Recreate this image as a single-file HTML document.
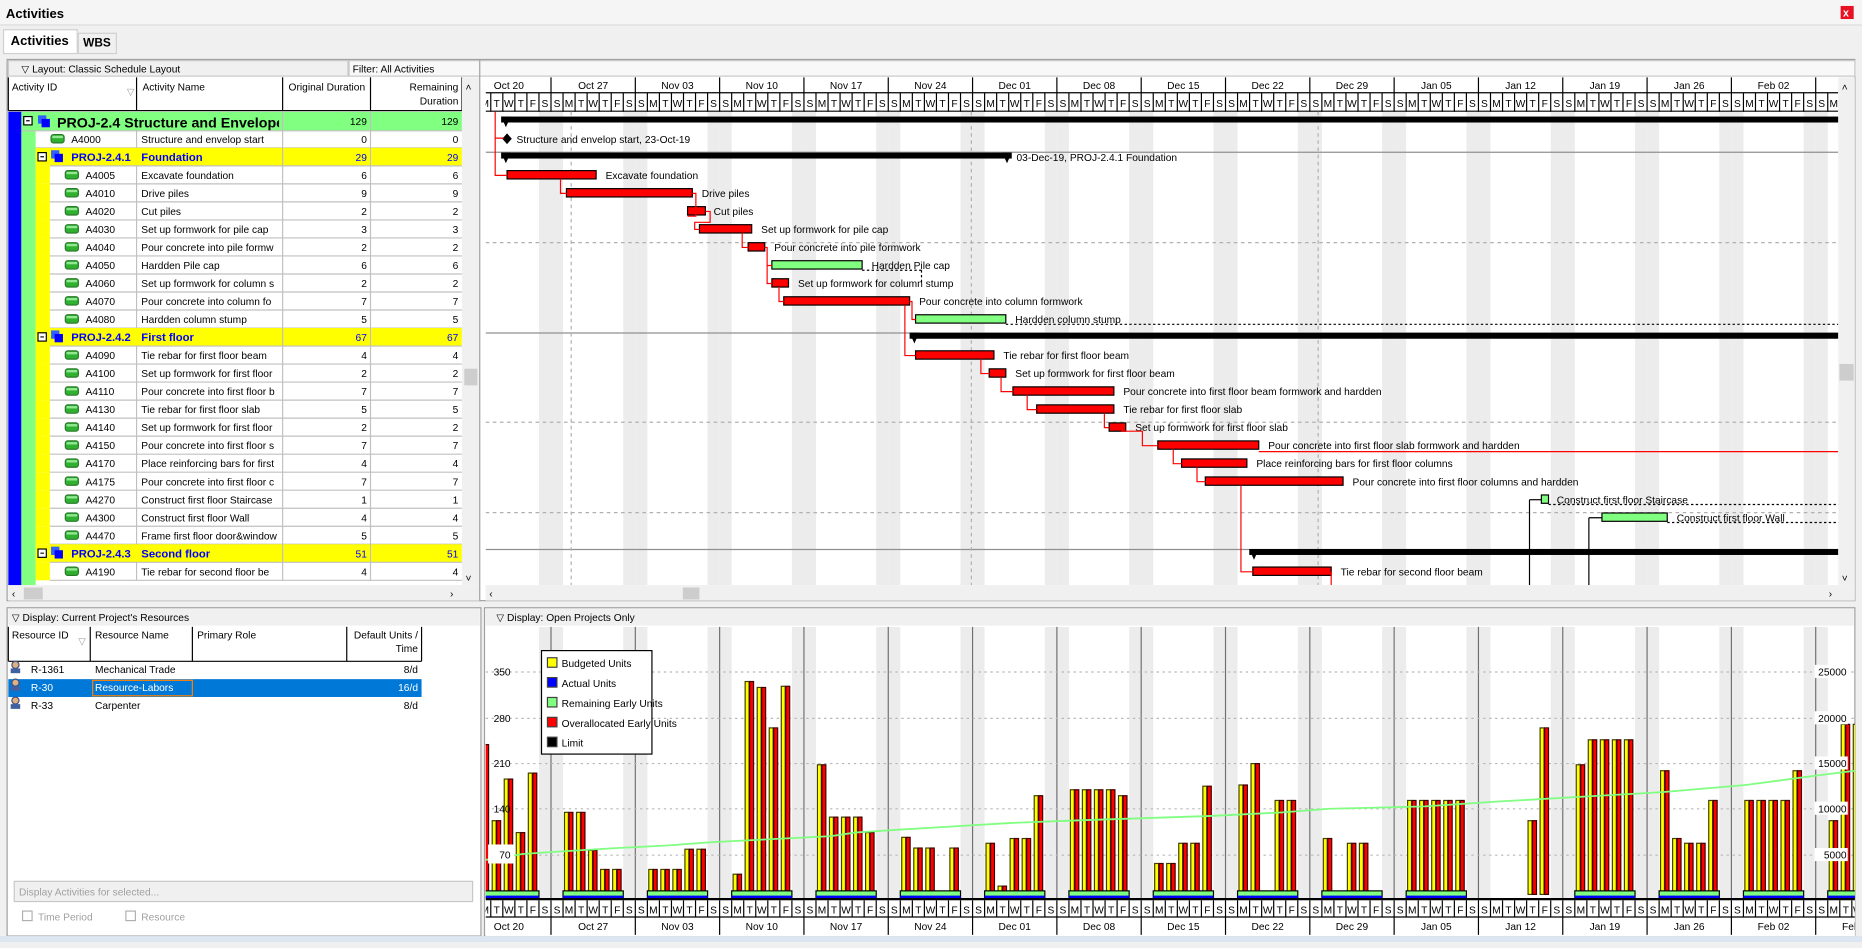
<!DOCTYPE html>
<html><head><meta charset="utf-8">
<style>
html,body{margin:0;padding:0;width:1862px;height:942px;overflow:hidden;background:#f0f0f0}
#w{position:absolute;left:0;top:0;width:1568px;height:792px;transform:scale(1.1875,1.18939);transform-origin:0 0}
svg text{font-family:"Liberation Sans",sans-serif;font-size:8.6px;fill:#000}
</style></head><body>
<div id="w"><svg id="s" width="1568" height="792" xmlns="http://www.w3.org/2000/svg"></svg></div>
<script>
var o=[];
function R(x,y,w,h,f,st,extra){o.push('<rect x="'+x+'" y="'+y+'" width="'+w+'" height="'+h+'" fill="'+f+'"'+(st?' stroke="'+st+'" stroke-width="1"':'')+(extra||'')+'/>');}
function L(x1,y1,x2,y2,c,d,sw){o.push('<line x1="'+x1+'" y1="'+y1+'" x2="'+x2+'" y2="'+y2+'" stroke="'+c+'" stroke-width="'+(sw||1)+'"'+(d?' stroke-dasharray="'+d+'"':'')+'/>');}
function T(x,y,t,a){o.push('<text x="'+x+'" y="'+y+'" '+(a||'')+'>'+t+'</text>');}
R(0,0,1568,792,'#f0f0f0');
R(0,0,1568,21,'#f5f5f5');L(0,21,1568,21,'#dcdcdc');
T(5,15,'Activities','style="font-size:11px;font-weight:bold"');
R(1550,5,11,11,'#e81123');T(1552,14,'x','style="fill:#fff;font-size:9px;font-weight:bold"');
R(3,25,62,20,'#fff','#d0d0d0');T(9,38,'Activities','style="font-size:11px;font-weight:bold"');
R(66,28,32,17,'#f0f0f0','#d0d0d0');T(70,39,'WBS','style="font-size:10px;font-weight:bold"');
R(6,50,1556,455,'#fff','#a0a0a0');
R(7,51,286,13,'#f0f0f0','#c8c8c8');T(18,61,'▽ Layout: Classic Schedule Layout');
R(294,51,1268,13,'#f8f8f8','#c8c8c8');T(297,61,'Filter: All Activities');
R(7,65,397,28,'#fff');
var cols=[7,115,238,312,389];
for(var i=0;i<cols.length;i++)L(cols[i],65,cols[i],93,'#000');
L(7,93,389,93,'#000');
T(10,76,'Activity ID');T(107,80,'▽','style="fill:#999;font-size:8px"');T(120,76,'Activity Name');T(243,76,'Original Duration');T(386,76,'Remaining','text-anchor="end"');T(386,88,'Duration','text-anchor="end"');
var rows=[
['g0','PROJ-2.4  Structure and Envelope','129'],
['a1','A4000','Structure and envelop start','0'],
['g1','PROJ-2.4.1','Foundation','29'],
['a2','A4005','Excavate foundation','6'],
['a2','A4010','Drive piles','9'],
['a2','A4020','Cut piles','2'],
['a2','A4030','Set up formwork for pile cap','3'],
['a2','A4040','Pour concrete into pile formw','2'],
['a2','A4050','Hardden Pile cap','6'],
['a2','A4060','Set up formwork for column s','2'],
['a2','A4070','Pour concrete into column fo','7'],
['a2','A4080','Hardden column stump','5'],
['g1','PROJ-2.4.2','First floor','67'],
['a2','A4090','Tie rebar for first floor beam','4'],
['a2','A4100','Set up formwork for first floor','2'],
['a2','A4110','Pour concrete into first floor b','7'],
['a2','A4130','Tie rebar for first floor slab','5'],
['a2','A4140','Set up formwork for first floor','2'],
['a2','A4150','Pour concrete into first floor s','7'],
['a2','A4170','Place reinforcing bars for first','4'],
['a2','A4175','Pour concrete into first floor c','7'],
['a2','A4270','Construct first floor Staircase','1'],
['a2','A4300','Construct first floor Wall','4'],
['a2','A4470','Frame first floor door&amp;window','5'],
['g1','PROJ-2.4.3','Second floor','51'],
['a2','A4190','Tie rebar for second floor be','4']];
var RH=15.15,RT=94;
function ry(i){return RT+i*RH;}
R(7,94,11,398,'#0000ff');R(18,110,12,382,'#80ff80');
o.push('<clipPath id="tc"><rect x="7" y="94" width="382" height="397"/></clipPath><clipPath id="c0"><rect x="44" y="94" width="191" height="16"/></clipPath><clipPath id="cn"><rect x="115" y="94" width="121" height="400"/></clipPath><g clip-path="url(#tc)">');
for(var i=0;i<rows.length;i++){
 var r=rows[i],y=ry(i),cy=y+11;
 if(r[0]=='g0'){R(18,y,371,16,'#80ff80');
  R(20,y+4,7,7,'#fff','#000');L(22,y+7.5,25,y+7.5,'#000');
  R(32,y+3,7,7,'#3060ff');R(35,y+6,7,7,'#0000ff');
  T(48,y+13,r[1],'clip-path="url(#c0)" style="font-size:12px;font-weight:bold"');
  T(309,cy,r[2],'text-anchor="end"');T(386,cy,r[2],'text-anchor="end"');
  L(238,y,238,y+16,'#c0c0c0');L(312,y,312,y+16,'#c0c0c0');L(18,y+16,389,y+16,'#c0c0c0');continue;}
 if(r[0]=='g1'){R(30,y,359,RH,'#ffff00');
  R(32,y+4,7,7,'#fff','#000');L(34,y+7.5,37,y+7.5,'#000');
  R(43,y+2,7,7,'#3060ff');R(46,y+5,7,7,'#0000ff');
  T(60,cy,r[1],'style="font-weight:bold;fill:#0000ff;font-size:9.5px"');T(119,cy,r[2],'style="font-weight:bold;fill:#0000ff;font-size:9.5px"');
  T(309,cy,r[3],'text-anchor="end" style="fill:#0000ff"');T(386,cy,r[3],'text-anchor="end" style="fill:#0000ff"');
 } else {
  var ix=r[0]=='a1'?43:55;
  if(r[0]=='a2')R(30,y,12,RH,'#ffff00');
  R(ix,y+4,11,7,'#30b030','#2a7a2a','rx="2"');R(ix+1,y+5,9,2,'#90e890');
  T(r[0]=='a1'?60:72,cy,r[1]);T(119,cy,r[2],'clip-path="url(#cn)"');
  T(309,cy,r[3],'text-anchor="end"');T(386,cy,r[3],'text-anchor="end"');
  L(115,y,115,y+RH,'#c0c0c0');
 }
 L(238,y,238,y+RH,'#c0c0c0');L(312,y,312,y+RH,'#c0c0c0');L(r[0]=='a1'?30:42,y+RH,389,y+RH,'#c0c0c0');
}
o.push('</g>');
R(389,65,15,427,'#f0f0f0');T(392,76,'˄');T(392,489,'˅');R(391,310,11,14,'#cdcdcd');
R(7,492,397,13,'#f0f0f0');T(10,502,'‹');T(379,502,'›');R(20,494,16,10,'#cdcdcd');
L(404,50,404,505,'#a0a0a0');
function dx(d){return 393+d*10.143;}
var wk=['Oct 20','Oct 27','Nov 03','Nov 10','Nov 17','Nov 24','Dec 01','Dec 08','Dec 15','Dec 22','Dec 29','Jan 05','Jan 12','Jan 19','Jan 26','Feb 02','Feb 09'];
var dn=['S','M','T','W','T','F','S'];
o.push('<clipPath id="gc"><rect x="409" y="65" width="1139" height="427"/></clipPath><g clip-path="url(#gc)">');
R(409,65,1139,427,'#fff');
for(var d=0;d<120;d++){var x=dx(d);if(d%7==6||d%7==0)R(x,94,10.143,398,'#ececec');}
R(409,65,1139,29,'#fff');
for(var k=0;k<17;k++){var x=dx(k*7);L(x,65,x,78,'#000');T(x+35.5,75,wk[k],'text-anchor="middle"');}
L(409,78,1548,78,'#000');L(409,93.5,1548,93.5,'#000');
for(var d=0;d<120;d++){var x=dx(d);L(x,78,x,94,'#000');T(x+5.07,90,dn[d%7],'text-anchor="middle"');}
[128,280,462].forEach(function(y){L(409,y,1548,y,'#909090');});
[204,355,431].forEach(function(y){L(409,y,1548,y,'#b0b0b0','3,3');});
[481,818,1110].forEach(function(x){L(x,94,x,492,'#b0b0b0','3,3');});
function sumbar(x1,x2,i){var y=ry(i)+4;R(x1,y,x2-x1,5,'#000');o.push('<polygon points="'+x1+','+y+' '+(x1+8)+','+y+' '+(x1+4)+','+(y+9)+'" fill="#000"/>');o.push('<polygon points="'+(x2-8)+','+y+' '+x2+','+y+' '+(x2-4)+','+(y+9)+'" fill="#000"/>');}
function bar(x1,x2,i,c,t,tx){var y=ry(i)+4;R(x1,y,x2-x1,7,c,'#000');if(t)T(tx||x2+8,ry(i)+11,t);}
sumbar(422,1560,0);
o.push('<polygon points="427,'+(ry(1)+3)+' 431,'+(ry(1)+7.5)+' 427,'+(ry(1)+12)+' 423,'+(ry(1)+7.5)+'" fill="#000"/>');T(435,ry(1)+11,'Structure and envelop start, 23-Oct-19');
sumbar(422,852,2);T(856,ry(2)+11,'03-Dec-19, PROJ-2.4.1  Foundation');
var R_='#ff0000',G_='#80ff80';
bar(427,502,3,R_,'Excavate foundation');
bar(477,583,4,R_,'Drive piles');
bar(579,594,5,R_,'Cut piles',601);
bar(589,633,6,R_,'Set up formwork for pile cap');
bar(630,644,7,R_,'Pour concrete into pile formwork');
bar(650,726,8,G_,'Hardden Pile cap');L(726,ry(8)+12,776,ry(8)+12,'#000','2,2');L(776,ry(8)+12,776,ry(9)+8,'#000','2,2');
bar(650,664,9,R_,'Set up formwork for column stump');
bar(660,766,10,R_,'Pour concrete into column formwork',774);
bar(771,847,11,G_,'Hardden column stump');L(847,ry(11)+12,1560,ry(11)+12,'#000','2,2');
sumbar(766,1560,12);
bar(771,837,13,R_,'Tie rebar for first floor beam');
bar(833,847,14,R_,'Set up formwork for first floor beam');
bar(853,938,15,R_,'Pour concrete into first floor beam formwork and hardden');
bar(873,938,16,R_,'Tie rebar for first floor slab');
bar(934,948,17,R_,'Set up formwork for first floor slab');
bar(975,1060,18,R_,'Pour concrete into first floor slab formwork and hardden');L(1060,ry(18)+13,1560,ry(18)+13,'#ff0000');
bar(995,1050,19,R_,'Place reinforcing bars for first floor columns');
bar(1015,1131,20,R_,'Pour concrete into first floor columns and hardden');
bar(1298,1304,21,G_,'Construct first floor Staircase',1311);L(1304,ry(21)+12,1560,ry(21)+12,'#000','2,2');
bar(1349,1404,22,G_,'Construct first floor Wall');L(1404,ry(22)+12,1560,ry(22)+12,'#000','2,2');
sumbar(1052,1560,24);
bar(1055,1121,25,R_,'Tie rebar for second floor beam');
function rl(p){o.push('<polyline points="'+p+'" fill="none" stroke="#ff0000" stroke-width="1"/>');}
rl('417,94 417,'+(ry(1)+7)+' 424,'+(ry(1)+7));
rl('417,'+(ry(1)+7)+' 417,'+(ry(3)+8)+' 427,'+(ry(3)+8));
rl('472,'+(ry(3)+11)+' 472,'+(ry(4)+8)+' 477,'+(ry(4)+8));
rl('583,'+(ry(4)+8)+' 586,'+(ry(4)+8)+' 586,'+(ry(5)+12)+' 579,'+(ry(5)+12));
rl('594,'+(ry(5)+8)+' 598,'+(ry(5)+8)+' 598,'+(ry(6)+2)+' 585,'+(ry(6)+2)+' 585,'+(ry(6)+8)+' 589,'+(ry(6)+8));
rl('625,'+(ry(6)+11)+' 625,'+(ry(7)+8)+' 630,'+(ry(7)+8));
rl('644,'+(ry(7)+8)+' 646,'+(ry(7)+8)+' 646,'+(ry(8)+8)+' 650,'+(ry(8)+8));
rl('646,'+(ry(8)+8)+' 646,'+(ry(9)+8)+' 650,'+(ry(9)+8));
rl('656,'+(ry(9)+11)+' 656,'+(ry(10)+8)+' 660,'+(ry(10)+8));
rl('766,'+(ry(10)+8)+' 768,'+(ry(10)+8)+' 768,'+(ry(11)+8)+' 771,'+(ry(11)+8));
rl('762,'+(ry(10)+11)+' 762,'+(ry(13)+8)+' 771,'+(ry(13)+8));
rl('826,'+(ry(13)+11)+' 826,'+(ry(14)+8)+' 833,'+(ry(14)+8));
rl('843,'+(ry(14)+11)+' 843,'+(ry(15)+8)+' 853,'+(ry(15)+8));
rl('865,'+(ry(15)+11)+' 865,'+(ry(16)+8)+' 873,'+(ry(16)+8));
rl('930,'+(ry(16)+11)+' 930,'+(ry(17)+8)+' 934,'+(ry(17)+8));
rl('944,'+(ry(17)+11)+' 962,'+(ry(17)+11)+' 962,'+(ry(18)+8)+' 975,'+(ry(18)+8));
rl('988,'+(ry(18)+11)+' 988,'+(ry(19)+8)+' 995,'+(ry(19)+8));
rl('1008,'+(ry(19)+11)+' 1008,'+(ry(20)+8)+' 1015,'+(ry(20)+8));
rl('1045,'+(ry(20)+11)+' 1045,'+(ry(25)+8)+' 1055,'+(ry(25)+8));
rl('1121,'+(ry(25)+8)+' 1121,492');
L(1288,ry(21)+8,1288,492,'#000');L(1288,ry(21)+8,1298,ry(21)+8,'#000');
L(1338,ry(22)+8,1338,492,'#000');L(1338,ry(22)+8,1349,ry(22)+8,'#000');
o.push('</g>');
R(1548,65,14,427,'#f0f0f0');T(1551,76,'˄');T(1551,489,'˅');R(1549,306,12,14,'#cdcdcd');
R(409,492,1153,13,'#f0f0f0');T(412,502,'‹');T(1540,502,'›');R(575,494,14,10,'#cdcdcd');
R(6,511,399,276,'#fff','#a0a0a0');R(408,511,1154,276,'#fff','#a0a0a0');
R(7,512,397,14,'#f0f0f0');T(10,522,'▽ Display: Current Project\'s Resources');
R(409,512,1152,14,'#f0f0f0');T(418,522,'▽ Display: Open Projects Only');
var rc=[7,76,162,292,355];rc.forEach(function(x){L(x,527,x,556,'#000');});L(7,556,355,556,'#000');
T(10,537,'Resource ID');T(66,542,'▽','style="fill:#999;font-size:8px"');T(80,537,'Resource Name');T(166,537,'Primary Role');T(352,537,'Default Units /','text-anchor="end"');T(352,548,'Time','text-anchor="end"');
R(7,571,348,15,'#0078d7');R(78,572,84,13,'none','#ff8000');
var rs=[['R-1361','Mechanical Trade','8/d',563],['R-30','Resource-Labors','16/d',578],['R-33','Carpenter','8/d',593]];
rs.forEach(function(r,i){var c=i==1?'style="fill:#fff"':'';
 o.push('<circle cx="13" cy="'+(r[3]-4)+'" r="3" fill="#e0b080" stroke="#405080"/>');R(9,r[3]-1,8,4,'#4060a0');
 T(26,r[3]+3,r[0],c);T(80,r[3]+3,r[1],c);T(352,r[3]+3,r[2],'text-anchor="end" '+c);});
R(12,741,386,17,'#f0f0f0','#c8c8c8');T(16,753,'Display Activities for selected...','style="fill:#a0a0a0"');
R(19,766,8,8,'#fff','#b0b0b0');T(32,774,'Time Period','style="fill:#a0a0a0"');
R(106,766,8,8,'#fff','#b0b0b0');T(119,774,'Resource','style="fill:#a0a0a0"');
o.push('<clipPath id="hc"><rect x="409" y="527" width="1153" height="260"/></clipPath><g clip-path="url(#hc)">');
for(var d=0;d<120;d++){var x=dx(d);if(d%7==6||d%7==0)R(x,527,10.143,229,'#ececec');}
for(var k=0;k<17;k++){var x=dx(k*7);L(x,527,x,756,'#707070');}
[565,604,642,680,719].forEach(function(y){L(409,y,1562,y,'#b8b8b8','2,3');});
var tops=[[626,690,655,700,650],[683,683,715,731,731],[731,731,731,714,714],[735,573,578,612,577],[643,687,687,687,700],[704,713,713,756,713],[709,745,705,705,669],[664,664,664,664,669],[726,726,709,709,661],[660,642,756,673,673],[705,756,709,709,756],[673,673,673,673,673],[756,756,756,690,612],[643,622,622,622,622],[648,705,709,709,673],[673,673,673,673,648],[690,609,609,609,609]];
for(var k=0;k<17;k++){for(var j=0;j<5;j++){var t=tops[k][j];var x=dx(k*7+1+j);
 if(t<750){R(x+1.2,t,3.3,752-t,'#ffff00','#404000');R(x+5,t,3.3,752-t,'#ff0000','#400000');}}
 var a=dx(k*7+1),b=dx(k*7+6);if(!(k==12)){R(a,749,b-a,6,'#80ff80','#000');R(a,753,b-a,2,'#0000ff');}}
L(409,756,1562,756,'#000',null,2);
o.push('<polyline points="409,723 440,718 470,716 520,713 560,711 600,708 640,706 700,703 720,700 750,698 800,695 850,692 900,690 960,688 1020,686 1080,683 1120,680 1200,678 1260,674 1330,670 1400,666 1470,660 1530,652 1562,648" fill="none" stroke="#80ff80" stroke-width="1.5"/>');
R(411,710,22,16,'#fff');
o.push('</g>');
[['350',565],['280',604],['210',642],['140',680],['70',719]].forEach(function(v){T(430,v[1]+3,v[0],'text-anchor="end"');});
[['25000',565],['20000',604],['15000',642],['10000',680],['5000',719]].forEach(function(v){R(1528,v[1]-6,28,11,'#fff');T(1555,v[1]+3,v[0],'text-anchor="end"');});
R(456,547,93,87,'#fff','#000');
[['#ffff00','Budgeted Units'],['#0000ff','Actual Units'],['#80ff80','Remaining Early Units'],['#ff0000','Overallocated Early Units'],['#000','Limit']].forEach(function(l,i){var y=553+i*16.7;R(461,y,8,8,l[0],'#404040');T(473,y+8,l[1]);});
R(409,757,1153,30,'#fff');
o.push('<g clip-path="url(#hc)">');
for(var d=0;d<120;d++){var x=dx(d);L(x,757,x,771,'#000');T(x+5.07,768,dn[d%7],'text-anchor="middle"');}
L(409,771,1562,771,'#000');
for(var k=0;k<17;k++){var x=dx(k*7);L(x,771,x,786,'#000');T(x+35.5,782,wk[k],'text-anchor="middle"');}
o.push('</g>');
R(0,787,1568,5,'#dce6f0');
document.getElementById('s').innerHTML=o.join('');
</script>
</body></html>
